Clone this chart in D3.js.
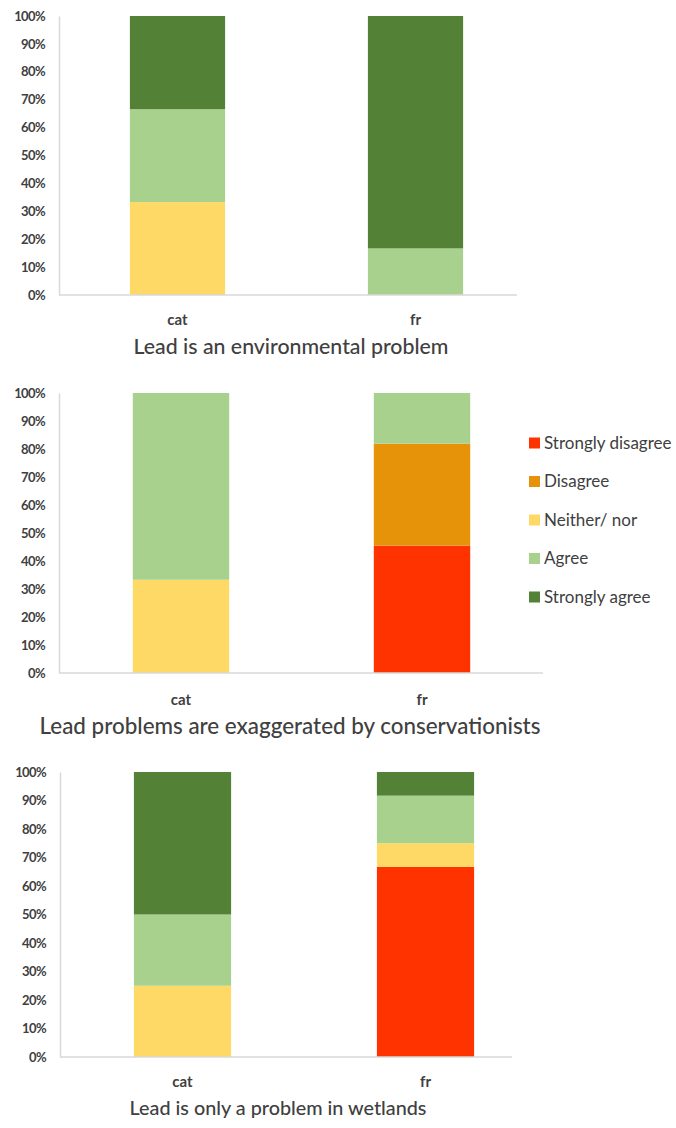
<!DOCTYPE html>
<html>
<head>
<meta charset="utf-8">
<script src="https://cdn.jsdelivr.net/npm/d3@7"></script>
<style>
  html, body { margin: 0; padding: 0; background: #fff; }
  svg { display: block; }
  text { font-family: Lato, "Open Sans", sans-serif; fill: #404040; }
</style>
</head>
<body>
<svg id="chart" width="676" height="1128"></svg>
<script>
// ---- data ----
const categories = ["cat", "fr"];
const seriesNames = ["Strongly disagree", "Disagree", "Neither/ nor", "Agree", "Strongly agree"];
const seriesColors = ["#FF3300", "#E6930A", "#FFD966", "#A9D18E", "#538135"];
const panelTitles = [
  "Lead is an environmental problem",
  "Lead problems are exaggerated by conservationists",
  "Lead is only a problem in wetlands"
];
const yTicks = [0, 0.1, 0.2, 0.3, 0.4, 0.5, 0.6, 0.7, 0.8, 0.9, 1.0];
// percentages per category, in series order (bottom to top)
const envCat = [0, 0, 33.3, 33.3, 33.4];
const envFr = [0, 0, 0, 16.7, 83.3];
const exagCat = [0, 0, 33.3, 66.7, 0];
const exagFr = [45.5, 36.4, 0, 18.1, 0];
const wetCat = [0, 0, 25, 25, 50];
const wetFr = [66.7, 0, 8.3, 16.7, 8.3];

// ---- layout (not data) ----
const panels = [
  { title: panelTitles[0], values: [envCat, envFr], axisX: 59, top: 16, bottom: 295, bandStart: 58.5, bandEnd: 534.5, axisEnd: 517, catY: 325, titleX: 291, titleY: 354, titleSize: 21.3, legend: false },
  { title: panelTitles[1], values: [exagCat, exagFr], axisX: 59, top: 393, bottom: 673, bandStart: 60.5, bandEnd: 542.5, axisEnd: 543, catY: 705, titleX: 290, titleY: 734, titleSize: 22.4, legend: true },
  { title: panelTitles[2], values: [wetCat, wetFr], axisX: 60, top: 772, bottom: 1057, bandStart: 61, bandEnd: 547, axisEnd: 512, catY: 1087, titleX: 278, titleY: 1115, titleSize: 19.8, legend: false }
];

const svg = d3.select("#chart");
const stack = d3.stack().keys(d3.range(seriesNames.length));

panels.forEach(p => {
  const g = svg.append("g");
  const rows = categories.map((c, i) => {
    const o = { cat: c };
    p.values[i].forEach((v, k) => o[k] = v / 100);
    return o;
  });
  const layers = stack(rows);

  const x = d3.scaleBand().domain(categories).range([p.bandStart, p.bandEnd])
    .paddingInner(0.6).paddingOuter(0.3);
  const y = d3.scaleLinear().domain([0, 1]).range([p.bottom, p.top]);

  // bars
  layers.forEach((layer, k) => {
    g.selectAll(null).data(layer).enter().append("rect")
      .attr("x", d => x(d.data.cat))
      .attr("width", x.bandwidth())
      .attr("y", d => y(d[1]))
      .attr("height", d => y(d[0]) - y(d[1]))
      .attr("fill", seriesColors[k]);
  });

  // y axis
  const yAxis = d3.axisLeft(y).tickValues(yTicks).tickFormat(d3.format(".0%")).tickSize(0).tickPadding(14);
  const ya = g.append("g").attr("transform", `translate(${p.axisX},0)`).call(yAxis);
  ya.select(".domain").attr("stroke", "#d9d9d9").attr("stroke-width", 1.5);
  ya.selectAll("text").style("font-family", "Lato, sans-serif").style("font-size", "13px")
    .style("font-weight", "bold").attr("fill", "#404040").attr("letter-spacing", "-0.6");

  // x axis baseline
  g.append("line").attr("x1", p.axisX).attr("x2", p.axisEnd)
    .attr("y1", y(0)).attr("y2", y(0)).attr("stroke", "#d9d9d9").attr("stroke-width", 1.5);

  // category labels
  g.selectAll(null).data(categories).enter().append("text")
    .attr("x", d => x(d) + x.bandwidth() / 2)
    .attr("y", p.catY)
    .attr("text-anchor", "middle")
    .style("font-size", "15px").style("font-weight", "bold")
    .text(d => d);

  // title
  g.append("text").attr("x", p.titleX).attr("y", p.titleY)
    .attr("text-anchor", "middle").style("font-size", p.titleSize + "px")
    .style("font-weight", 500)
    .text(p.title);

  if (p.legend) {
    const lg = g.append("g").attr("transform", "translate(529,443)");
    const items = lg.selectAll(null).data(seriesNames).enter().append("g")
      .attr("transform", (d, i) => `translate(0,${i * 38.5})`);
    items.append("rect").attr("x", 0).attr("y", -5.5).attr("width", 11).attr("height", 11)
      .attr("fill", (d, i) => seriesColors[i]);
    items.append("text").attr("x", 15).attr("y", 0).attr("dy", "0.35em")
      .style("font-size", "17px").text(d => d);
  }
});
</script>
</body>
</html>
